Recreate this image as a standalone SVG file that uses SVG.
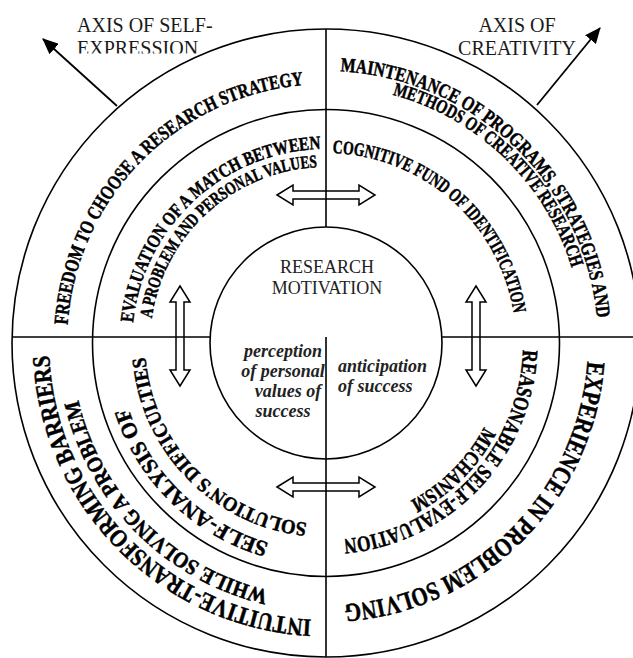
<svg xmlns="http://www.w3.org/2000/svg" xmlns:xlink="http://www.w3.org/1999/xlink" width="633" height="658" viewBox="0 0 633 658">
<style>
.ln{fill:none;stroke:#000;stroke-width:1.6}
.dbl{fill:none;stroke:#000;stroke-width:1.5;stroke-linejoin:miter}
.ax{stroke:#000;stroke-width:1.8;fill:none}
.arc{font-family:"Liberation Serif","Times New Roman",serif;font-weight:bold;fill:#000;stroke:#000;stroke-width:0.5}
.lbl{font-family:"Liberation Serif","Times New Roman",serif;font-size:20px;fill:#1a1a1a}
.ctr{font-family:"Liberation Serif","Times New Roman",serif;font-size:18px;fill:#222;text-anchor:middle}
.it{font-family:"Liberation Serif","Times New Roman",serif;font-size:18px;font-weight:bold;font-style:italic;fill:#222}
</style>
<defs>
<marker id="ah" viewBox="0 0 16 14" refX="15" refY="7" markerWidth="16" markerHeight="14" markerUnits="userSpaceOnUse" orient="auto">
<path d="M0,0 L16,7 L0,14 Z" fill="#000"/>
</marker>
<clipPath id="clipExp"><rect x="0" y="0" width="320" height="53.5"/></clipPath>
<path id="p1" d="M67.63,324.93 A259,259 0 0 1 303.43,84.99"/>
<path id="p2" d="M133.06,322.72 A194,194 0 0 1 320.92,149.07"/>
<path id="p3" d="M151.71,318.51 A176,176 0 0 1 316.79,167.24"/>
<path id="p4" d="M340.24,71.37 A272,272 0 0 1 596.84,317.88"/>
<path id="p5" d="M392.52,94.76 A257,257 0 0 1 571.77,267.86"/>
<path id="p6" d="M332.63,153.12 A190,190 0 0 1 513.66,313.28"/>
<path id="p7" d="M587.36,361.28 A262,262 0 0 1 344.28,604.36"/>
<path id="p8" d="M522.88,349.88 A197,197 0 0 1 343.17,539.25"/>
<path id="p9" d="M484.05,427.04 A179,179 0 0 1 410.04,501.05"/>
<path id="p10" d="M311.50,619.62 A277,277 0 0 1 49.26,355.08"/>
<path id="p11" d="M268.86,590.49 A254,254 0 0 1 78.51,400.14"/>
<path id="p12" d="M268.67,542.94 A208,208 0 0 1 128.18,407.28"/>
<path id="p13" d="M307.08,523.01 A181,181 0 0 1 145.58,357.52"/>
</defs>
<rect width="633" height="658" fill="#fff"/>

<g id="frame">
<circle class="ln" cx="326" cy="343" r="314"/>
<circle class="ln" cx="326" cy="343" r="233.5"/>
<circle class="ln" cx="326" cy="343" r="116"/>
<line class="ln" x1="326" y1="29" x2="326" y2="227"/>
<line class="ln" x1="326" y1="337" x2="326" y2="657"/>
<line class="ln" x1="12" y1="337" x2="210.2" y2="337"/>
<line class="ln" x1="441.8" y1="337" x2="633" y2="337"/>
</g>

<g id="center">
<text class="ctr" x="327" y="273">RESEARCH</text>
<text class="ctr" x="327" y="294">MOTIVATION</text>
<text class="it" text-anchor="middle"><tspan x="283" y="357">perception</tspan><tspan x="283" y="377">of personal</tspan><tspan x="288" y="397">values of</tspan><tspan x="283" y="417">success</tspan></text>
<text class="it"><tspan x="338" y="372">anticipation</tspan><tspan x="338" y="392">of success</tspan></text>
</g>

<g id="axis-self-expression">
<text class="lbl" x="77" y="32">AXIS OF SELF-</text>
<text class="lbl" x="77" y="55" clip-path="url(#clipExp)">EXPRESSION</text>
</g>
<g id="axis-creativity">
<text class="lbl" x="517" y="32" text-anchor="middle">AXIS OF</text>
<text class="lbl" x="517" y="55" text-anchor="middle">CREATIVITY</text>
</g>

<g id="outer-upper-left">
<text class="arc" font-size="20"><textPath href="#p1" textLength="366" lengthAdjust="spacingAndGlyphs">FREEDOM TO CHOOSE A RESEARCH STRATEGY</textPath></text>
</g>
<g id="inner-upper-left">
<text class="arc" font-size="19"><textPath href="#p2" textLength="279" lengthAdjust="spacingAndGlyphs">EVALUATION OF A MATCH BETWEEN</textPath></text>
<text class="arc" font-size="18"><textPath href="#p3" textLength="243" lengthAdjust="spacingAndGlyphs">A PROBLEM AND PERSONAL VALUES</textPath></text>
</g>
<g id="outer-upper-right">
<text class="arc" font-size="20"><textPath href="#p4" textLength="388" lengthAdjust="spacingAndGlyphs">MAINTENANCE OF PROGRAMS, STRATEGIES AND</textPath></text>
<text class="arc" font-size="19"><textPath href="#p5" textLength="260" lengthAdjust="spacingAndGlyphs">METHODS OF CREATIVE RESEARCH</textPath></text>
</g>
<g id="inner-upper-right">
<text class="arc" font-size="19"><textPath href="#p6" textLength="262" lengthAdjust="spacingAndGlyphs">COGNITIVE FUND OF IDENTIFICATION</textPath></text>
</g>
<g id="outer-lower-right">
<text class="arc" font-size="26"><textPath href="#p7" textLength="375" lengthAdjust="spacingAndGlyphs">EXPERIENCE IN PROBLEM SOLVING</textPath></text>
</g>
<g id="inner-lower-right">
<text class="arc" font-size="22"><textPath href="#p8" textLength="285" lengthAdjust="spacingAndGlyphs">REASONABLE SELF-EVALUATION</textPath></text>
<text class="arc" font-size="21"><textPath href="#p9" textLength="106" lengthAdjust="spacingAndGlyphs">MECHANISM</textPath></text>
</g>
<g id="outer-lower-left">
<text class="arc" font-size="25"><textPath href="#p10" textLength="408" lengthAdjust="spacingAndGlyphs">INTUITIVE-TRANSFORMING BARRIERS</textPath></text>
<text class="arc" font-size="22"><textPath href="#p11" textLength="284" lengthAdjust="spacingAndGlyphs">WHILE SOLVING A PROBLEM</textPath></text>
</g>
<g id="inner-lower-left">
<text class="arc" font-size="22"><textPath href="#p12" textLength="203" lengthAdjust="spacingAndGlyphs">SELF-ANALYSIS OF</textPath></text>
<text class="arc" font-size="20"><textPath href="#p13" textLength="251" lengthAdjust="spacingAndGlyphs">SOLUTION'S DIFFICULTIES</textPath></text>
</g>

<g id="connectors">
<line class="ax" x1="117" y1="106" x2="43" y2="39" marker-end="url(#ah)"/>
<line class="ax" x1="537" y1="105" x2="600" y2="28" marker-end="url(#ah)"/>
<path class="dbl" d="M277,195 L293,185 L293,191 L359,191 L359,185 L375,195 L359,205 L359,199 L293,199 L293,205 Z"/>
<path class="dbl" d="M277,487 L293,477 L293,483 L359,483 L359,477 L375,487 L359,497 L359,491 L293,491 L293,497 Z"/>
<path class="dbl" d="M180,286 L170,302 L176,302 L176,370 L170,370 L180,386 L190,370 L184,370 L184,302 L190,302 Z"/>
<path class="dbl" d="M476,286 L466,302 L472,302 L472,370 L466,370 L476,386 L486,370 L480,370 L480,302 L486,302 Z"/>
</g>
</svg>
